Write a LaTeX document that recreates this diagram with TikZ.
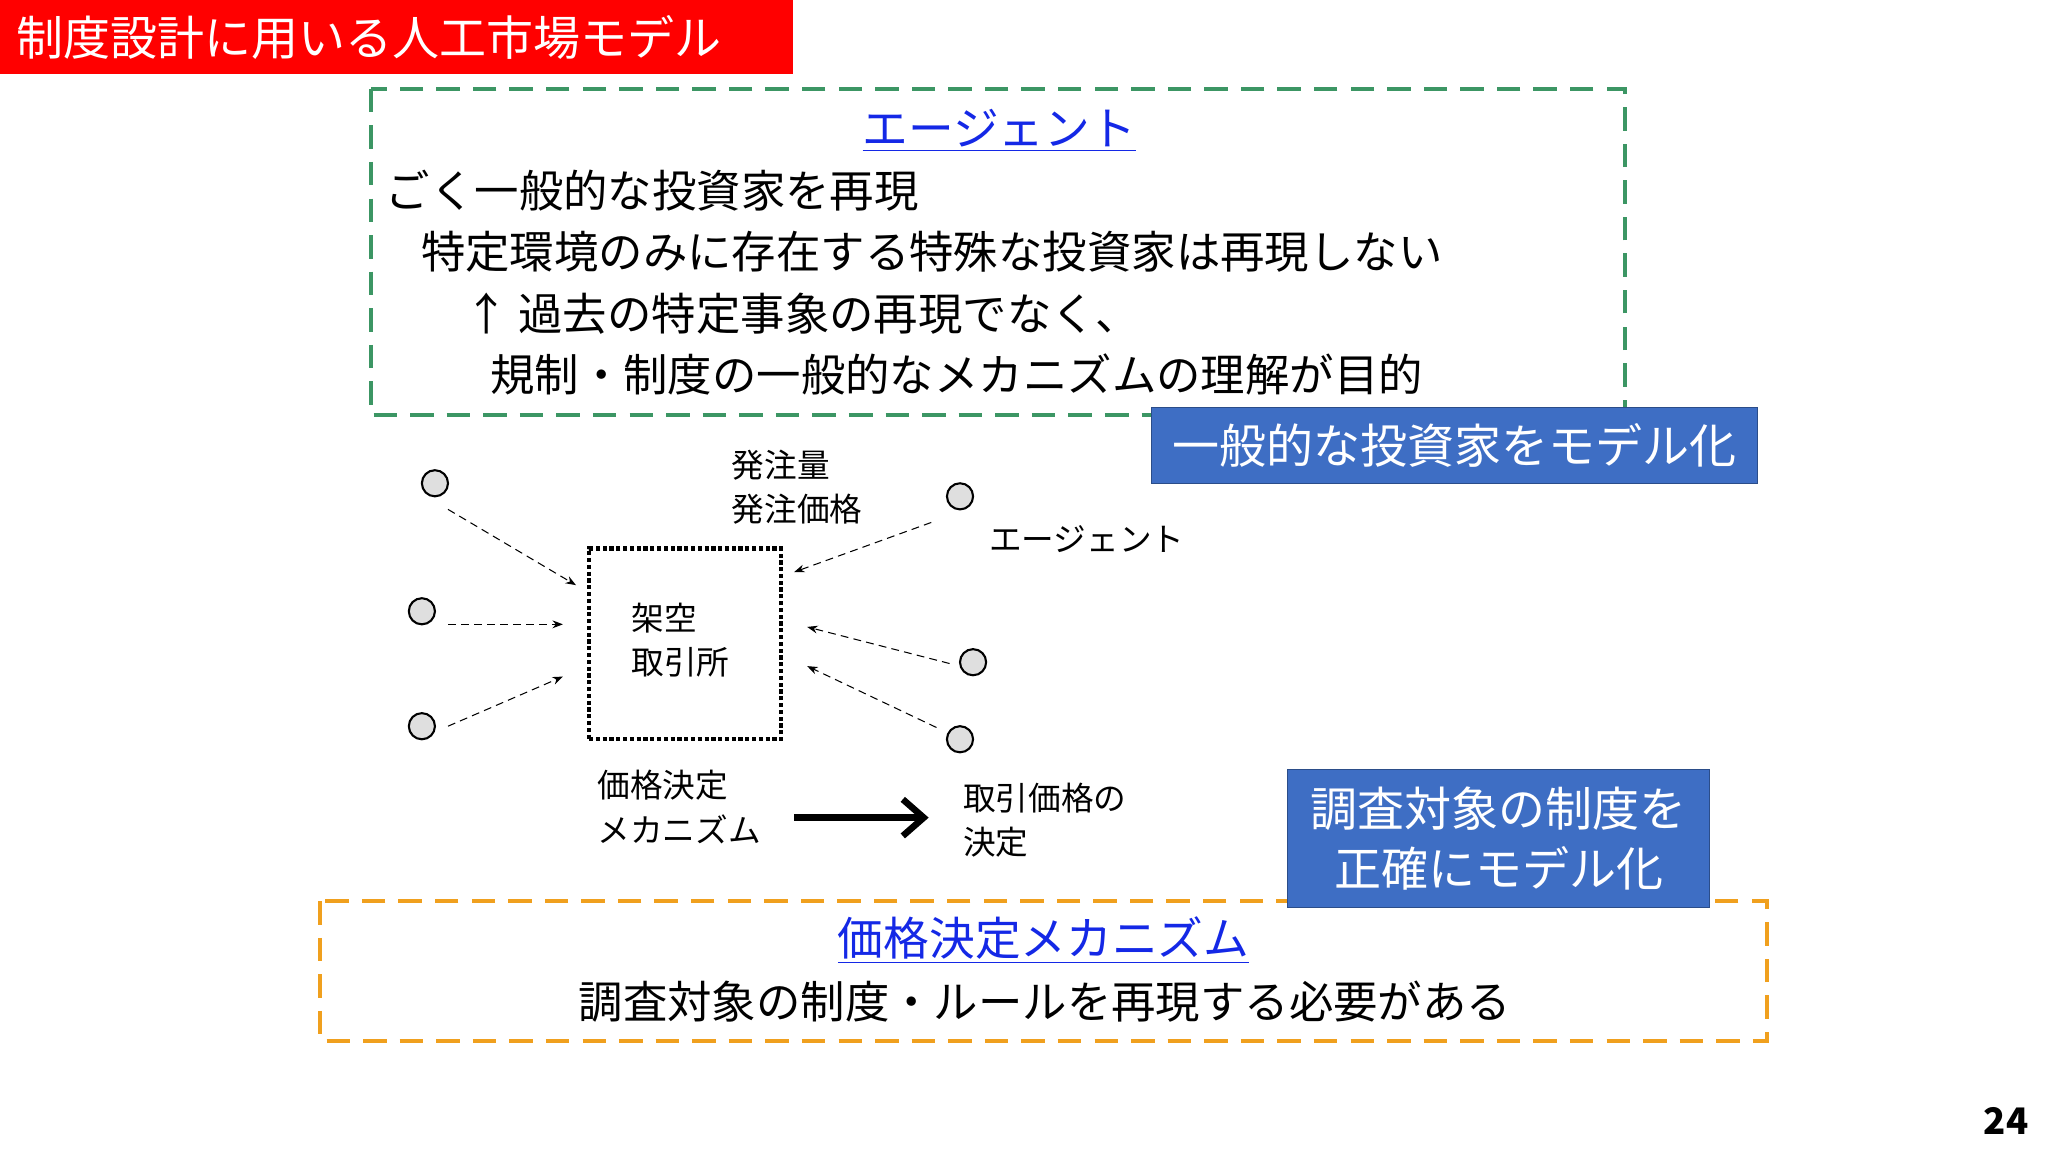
\documentclass[tikz,border=0pt]{standalone}
\usepackage{fontspec}
\setmainfont{Noto Sans CJK JP}
\usetikzlibrary{arrows.meta}
\definecolor{bbox}{RGB}{62,110,196}
\definecolor{gdash}{RGB}{60,150,100}
\definecolor{odash}{RGB}{240,160,30}
\definecolor{lnk}{RGB}{20,40,230}
\tikzset{
  big/.style={font=\fontsize{17}{21}\selectfont, anchor=west, inner sep=0},
  small/.style={font=\fontsize{12.5}{17}\selectfont, anchor=west, inner sep=0, align=left},
  agent/.style={circle, draw, thick, fill=gray!25, minimum size=10pt, inner sep=0},
  flow/.style={densely dashed, -{Stealth[length=4pt]}},
  blueb/.style={fill=bbox, draw=bbox!70!black, text=white, font=\fontsize{18}{23}\selectfont, align=center}
}
\begin{document}
\begin{tikzpicture}[x=0.5pt,y=-0.5pt]
\useasboundingbox (0,0) rectangle (1568,882);
\fill[white] (0,0) rectangle (1568,882);
% title
\fill[red] (0,0) rectangle (607,57);
\node[big, text=white, font=\fontsize{18}{22}\selectfont] (title) at (12,29) {制度設計に用いる人工市場モデル};
% green box
\draw[gdash, line width=1.5pt, dash pattern=on 9pt off 5pt] (284,68) rectangle (1244,318);
\node[font=\fontsize{17.5}{22}\selectfont, text=lnk, inner sep=0] (t1) at (765,100) {\underline{エージェント}};
\node[big] (l1) at (295,146) {ごく一般的な投資家を再現};
\node[big] (l2) at (322,193) {特定環境のみに存在する特殊な投資家は再現しない};
\node[big] (l3) at (355,240) {↑ 過去の特定事象の再現でなく、};
\node[big] (l4) at (375,287) {規制・制度の一般的なメカニズムの理解が目的};
\node[blueb, minimum width=232pt, minimum height=29pt] (b1) at (1113.5,341) {一般的な投資家をモデル化};
% market diagram
\node[draw, line width=1.6pt, densely dotted, minimum width=73.5pt, minimum height=73pt] (ex) at (524.5,493) {};
\node[small] (exl) at (483,490) {架空\\取引所};
\node[agent] (a1) at (333,370) {};
\node[agent] (a2) at (323,468) {};
\node[agent] (a3) at (323,556) {};
\node[agent] (a4) at (735,380) {};
\node[agent] (a5) at (745,507) {};
\node[agent] (a6) at (735,566) {};
\coordinate (e1) at (441,448); \coordinate (e2) at (431,478); \coordinate (e3) at (431,518);
\coordinate (e4) at (608,438); \coordinate (e5) at (618,480); \coordinate (e6) at (618,510);
\draw[flow] (a1) ++(10,20) -- (e1);
\draw[flow] (a2) ++(20,10) -- (e2);
\draw[flow] (a3) ++(20,0) -- (e3);
\draw[flow] (a4) ++(-22,20) -- (e4);
\draw[flow] (a5) ++(-18,1) -- (e5);
\draw[flow] (a6) ++(-18,-9) -- (e6);
\node[small] (ord) at (560,373) {発注量\\発注価格};
\node[small] (agl) at (757,413) {エージェント};
\node[small] (pm) at (457,618) {価格決定\\メカニズム};
\node[small] (dec) at (737,628) {取引価格の\\決定};
\draw[line width=2.5pt, -{Straight Barb[length=8pt,width=14pt]}] (608,626) -- (711,626);
% orange box
\draw[odash, line width=1.5pt, dash pattern=on 9pt off 5pt] (245,690) rectangle (1353,797);
\node[font=\fontsize{17.5}{22}\selectfont, text=lnk, inner sep=0] (t2) at (799,720) {\underline{価格決定メカニズム}};
\node[font=\fontsize{17}{21}\selectfont, inner sep=0] (l5) at (800,767) {調査対象の制度・ルールを再現する必要がある};
\node[blueb, minimum width=161.5pt, minimum height=53pt] (b2) at (1147.5,642) {調査対象の制度を\\正確にモデル化};
\node[font=\bfseries\fontsize{14}{16}\selectfont, inner sep=0] (pg) at (1536,858) {24};
\end{tikzpicture}
\end{document}
